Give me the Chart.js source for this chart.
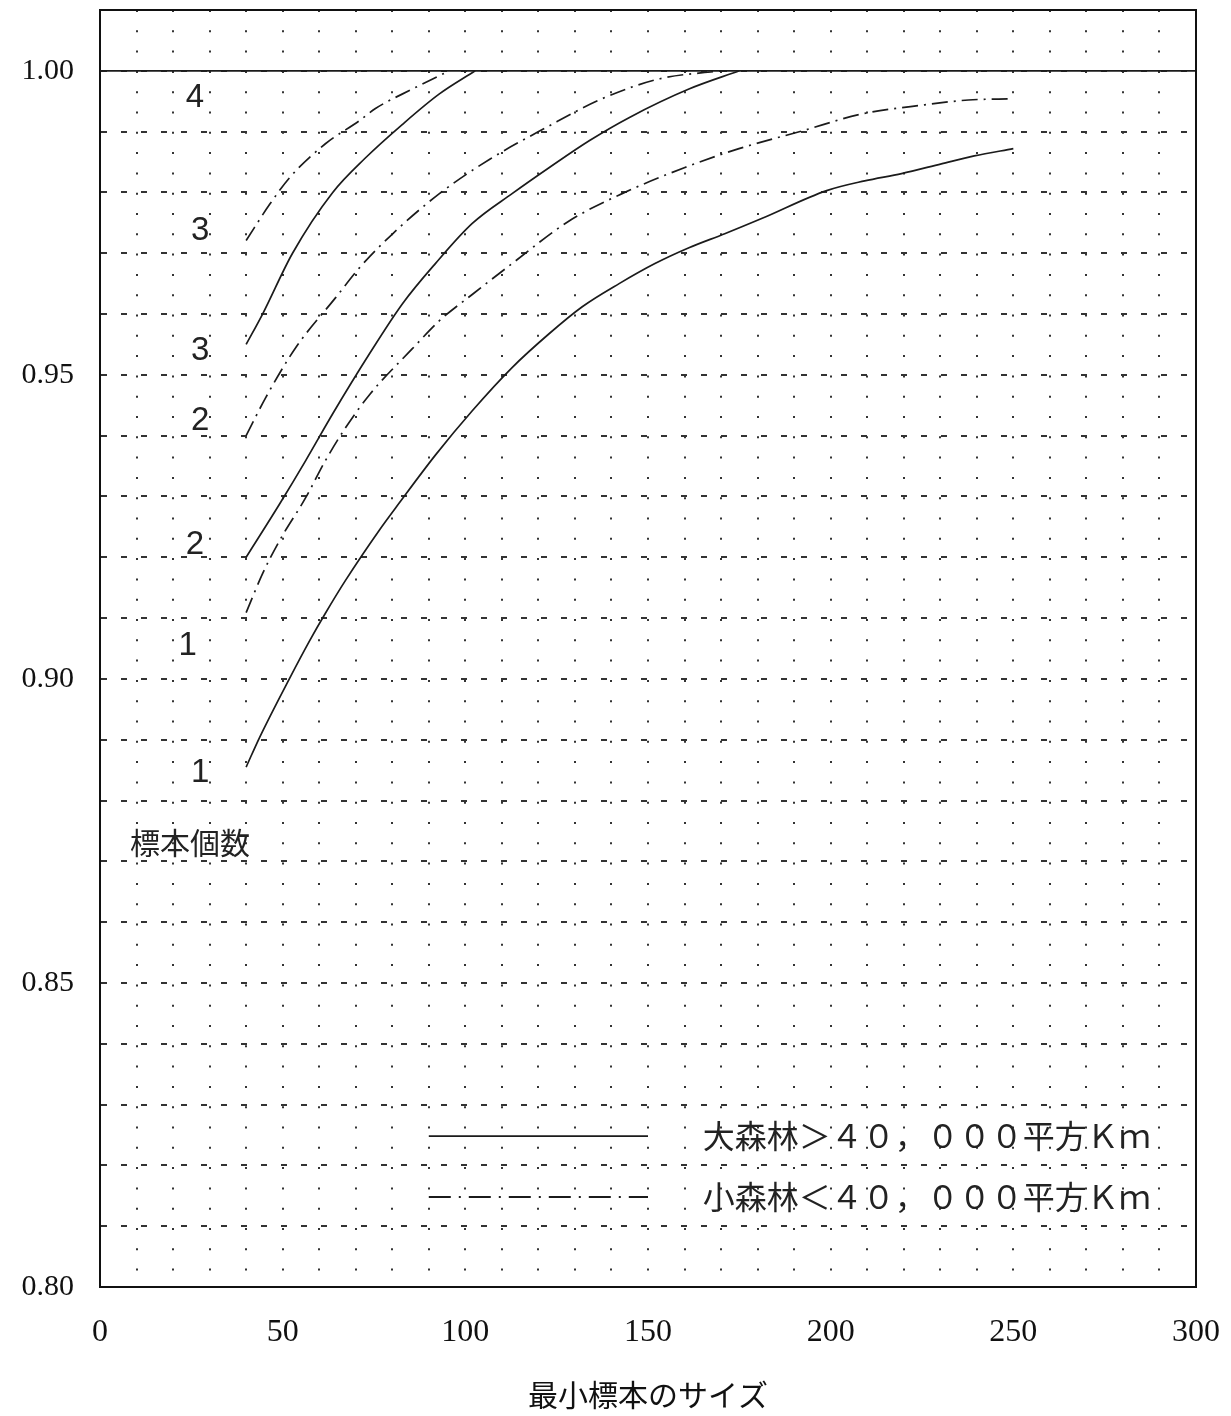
<!DOCTYPE html>
<html lang="ja">
<head>
    <meta charset="UTF-8">
    <title>最小標本のサイズ</title>
    <script src="https://cdn.jsdelivr.net/npm/chart.js"></script>
    <style>
        html, body {
            margin: 0;
            padding: 0;
            background: #fff;
        }
        .chart-container {
            position: relative;
            width: 1231px;
            height: 1416px;
        }
    </style>
</head>
<body>
    <div class="chart-container">
        <canvas id="sampleChart"></canvas>
    </div>

    <script>
        // x = minimum sample size, y = probability
        const xTickLabels = [0, 50, 100, 150, 200, 250, 300];
        const yTickLabels = [0.80, 0.85, 0.90, 0.95, 1.00];

        // 4 samples: already at 1.00 for both forest types
        const curve4 = [[0, 1.000], [300, 1.000]];

        // large forests (solid)
        const large3 = [[40, 0.955], [44.5, 0.960], [52.7, 0.970], [63.7, 0.980], [72.7, 0.9857],
            [82.8, 0.9912], [92.9, 0.9962], [102.7, 1.000]];
        const large2 = [[40, 0.920], [49.2, 0.9288], [56.3, 0.9359], [63.7, 0.9436], [73.8, 0.9535],
            [82.8, 0.9617], [91.8, 0.9683], [101.9, 0.9749], [112.8, 0.9798], [123, 0.9841],
            [133.9, 0.9885], [144.8, 0.9923], [161.2, 0.9970], [175, 1.000]];
        const large1 = [[40, 0.8855], [43.7, 0.8904], [51.9, 0.9001], [57.4, 0.9063], [61.7, 0.9108],
            [67.2, 0.9162], [76.5, 0.9245], [82, 0.9290], [91.8, 0.9368], [101.9, 0.9441],
            [112.8, 0.9512], [123, 0.9568], [132, 0.9612], [142.1, 0.9650], [151.9, 0.9683],
            [161.2, 0.9709], [171, 0.9732], [181.1, 0.9757], [198.9, 0.9803], [209.3, 0.9819],
            [219.4, 0.9831], [230.3, 0.9847], [239.3, 0.9860], [250, 0.9872]];

        // small forests (dash-dot)
        const small3 = [[40, 0.9721], [46.4, 0.9780], [52, 0.9825], [61.7, 0.9880], [71, 0.9918],
            [75.4, 0.9938], [85.5, 0.9970], [95.6, 1.000]];
        const small2 = [[40, 0.940], [45.4, 0.9463], [53.6, 0.9545], [64.5, 0.9627], [71, 0.9676],
            [80.1, 0.9732], [92.9, 0.9798], [106.8, 0.9855], [121.9, 0.9906], [137.4, 0.9954],
            [153.3, 0.9987], [170, 1.000]];
        const small1 = [[40, 0.9109], [44.5, 0.9173], [49.2, 0.9228], [56.3, 0.9298], [61.7, 0.9359],
            [67.2, 0.9413], [74, 0.9469], [85.5, 0.9543], [92.9, 0.9589], [102.5, 0.9635],
            [112.8, 0.9683], [128.4, 0.9753], [142.9, 0.9798], [160.1, 0.9841], [174.9, 0.9872],
            [192.1, 0.9901], [208.5, 0.9929], [225.7, 0.9944], [237.7, 0.9952], [250, 0.9954]];

        const curveLabels = ['4', '3', '3', '2', '2', '1', '1'];
        const legendLabels = ['大森林＞４０，０００平方Ｋｍ', '小森林＜４０，０００平方Ｋｍ'];
        const countLabel = '標本個数';
        const xTitle = '最小標本のサイズ';

        const INK = '#1b1b1b';
        const DASH_DOT = [16, 6, 2, 6];

        function toPoints(arr) {
            return arr.map(p => ({x: p[0], y: p[1]}));
        }

        function lineSet(label, arr, dashed) {
            return {
                label: label,
                data: toPoints(arr),
                borderColor: INK,
                borderWidth: 1.7,
                borderDash: dashed ? DASH_DOT : [],
                pointRadius: 0,
                fill: false,
                cubicInterpolationMode: 'monotone'
            };
        }

        const annotations = {
            id: 'annotations',
            afterDraw(chart, args, opts) {
                const {ctx, chartArea: a, scales: {x, y}} = chart;
                ctx.save();

                // top and right of the frame
                ctx.strokeStyle = '#111';
                ctx.lineWidth = 2;
                ctx.beginPath();
                ctx.moveTo(a.left, a.top);
                ctx.lineTo(a.right, a.top);
                ctx.lineTo(a.right, a.bottom);
                ctx.stroke();

                // sample count labels beside the curves
                ctx.fillStyle = '#222';
                ctx.textAlign = 'center';
                ctx.textBaseline = 'middle';
                ctx.font = '33px "Liberation Sans", Arial, sans-serif';
                curveLabels.forEach((t, i) => {
                    const pos = opts.labelPos[i];
                    ctx.fillText(t, x.getPixelForValue(pos[0]), y.getPixelForValue(pos[1]));
                });

                ctx.textAlign = 'left';
                ctx.font = '30px "Noto Sans CJK JP", sans-serif';
                ctx.fillText(countLabel, x.getPixelForValue(opts.countPos[0]), y.getPixelForValue(opts.countPos[1]));

                // legend
                ctx.font = '32px "Noto Sans CJK JP", sans-serif';
                legendLabels.forEach((t, i) => {
                    const ly = y.getPixelForValue(opts.legendY[i]);
                    ctx.strokeStyle = INK;
                    ctx.lineWidth = 1.8;
                    ctx.setLineDash(i === 0 ? [] : [22, 8, 2, 8]);
                    ctx.beginPath();
                    ctx.moveTo(x.getPixelForValue(opts.legendLine[0]), ly);
                    ctx.lineTo(x.getPixelForValue(opts.legendLine[1]), ly);
                    ctx.stroke();
                    ctx.setLineDash([]);
                    ctx.fillText(t, x.getPixelForValue(opts.legendTextX), ly);
                });
                ctx.restore();
            }
        };

        const ctx = document.getElementById('sampleChart').getContext('2d');
        new Chart(ctx, {
            type: 'line',
            data: {
                datasets: [
                    lineSet('4', curve4, false),
                    lineSet('大森林 3', large3, false),
                    lineSet('大森林 2', large2, false),
                    lineSet('大森林 1', large1, false),
                    lineSet('小森林 3', small3, true),
                    lineSet('小森林 2', small2, true),
                    lineSet('小森林 1', small1, true)
                ]
            },
            options: {
                responsive: true,
                maintainAspectRatio: false,
                animation: false,
                layout: {
                    padding: {top: 10, right: 35, left: 0, bottom: 0}
                },
                plugins: {
                    legend: {display: false},
                    tooltip: {enabled: false},
                    annotations: {
                        labelPos: [[26, 0.9956], [27.4, 0.9737], [27.4, 0.954], [27.4, 0.9425],
                            [26, 0.922], [24, 0.9054], [27.4, 0.8845]],
                        countPos: [8.2, 0.873],
                        legendY: [0.8248, 0.8148],
                        legendLine: [90, 150],
                        legendTextX: 165
                    }
                },
                scales: {
                    x: {
                        type: 'linear',
                        min: 0,
                        max: 300,
                        afterFit: s => {
                            s.height = 129;
                            s.paddingLeft = 0;
                            s.paddingRight = 0;
                        },
                        ticks: {
                            stepSize: 10,
                            autoSkip: false,
                            maxRotation: 0,
                            padding: 26,
                            color: '#111',
                            font: {family: '"Liberation Serif", "Times New Roman", serif', size: 32},
                            callback: v => xTickLabels.includes(v) ? String(v) : ''
                        },
                        grid: {
                            color: '#333',
                            lineWidth: 2,
                            drawTicks: false
                        },
                        border: {display: true, color: '#111', width: 2, dash: [2, 18.3]},
                        title: {
                            display: true,
                            text: xTitle,
                            color: '#111',
                            font: {family: '"Noto Sans CJK JP", sans-serif', size: 30},
                            padding: {top: 0, bottom: 3}
                        }
                    },
                    y: {
                        type: 'linear',
                        min: 0.80,
                        max: 1.01,
                        afterFit: s => {
                            s.width = 100;
                            s.paddingTop = 0;
                            s.paddingBottom = 0;
                        },
                        ticks: {
                            stepSize: 0.01,
                            autoSkip: false,
                            padding: 26,
                            color: '#111',
                            font: {family: '"Liberation Serif", "Times New Roman", serif', size: 30},
                            callback: v => {
                                const hit = yTickLabels.find(t => Math.abs(t - v) < 1e-6);
                                return hit !== undefined ? hit.toFixed(2) : '';
                            }
                        },
                        grid: {
                            color: '#333',
                            lineWidth: 2,
                            drawTicks: false
                        },
                        border: {display: true, color: '#111', width: 2, dash: [6, 14]}
                    }
                }
            },
            plugins: [annotations]
        });
    </script>
</body>
</html>
